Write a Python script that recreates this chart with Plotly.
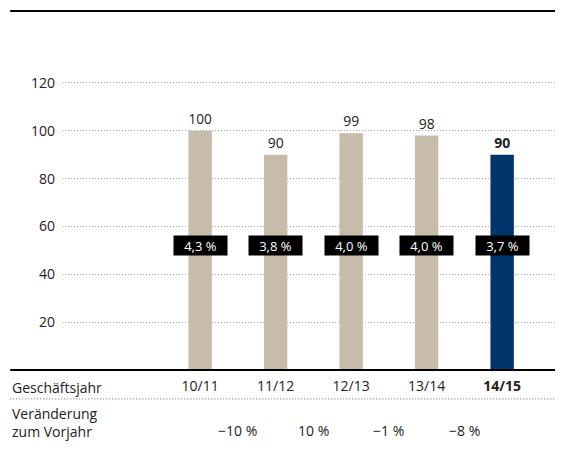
import plotly.graph_objects as go

years = ["10/11", "11/12", "12/13", "13/14", "14/15"]
values = [100, 90, 99, 98, 90]
margins = ["4,3 %", "3,8 %", "4,0 %", "4,0 %", "3,7 %"]
changes = ["\u221210 %", "10 %", "\u22121 %", "\u22128 %"]
y_ticks = [20, 40, 60, 80, 100, 120]

tan = "#c7bba9"
navy = "#00356b"
font = "Open Sans"
fs = 14

x_pos = list(range(len(years)))
colors = [tan] * (len(years) - 1) + [navy]
labels = [str(v) for v in values[:-1]] + ["<b>%d</b>" % values[-1]]
ticktext = years[:-1] + ["<b>%s</b>" % years[-1]]

fig = go.Figure(go.Bar(
    x=x_pos, y=values,
    marker=dict(color=colors, line=dict(width=0)),
    width=0.31,
    text=labels, textposition="outside",
    textfont=dict(size=fs, color="#222", family=font),
    cliponaxis=False,
))

# black boxes with the margin percentages
for i, m in enumerate(margins):
    fig.add_annotation(x=x_pos[i], y=52, text=m, showarrow=False,
                       bgcolor="black", width=51, height=17,
                       font=dict(color="white", size=13, family=font))

# year-over-year change row, placed between the two years compared
for i, c in enumerate(changes):
    fig.add_annotation(x=x_pos[i] + 0.5, y=-0.196, yref="paper", yanchor="middle", text=c,
                       showarrow=False, font=dict(size=fs, color="#222", family=font))

# row labels on the left
fig.add_annotation(x=-0.105, xref="paper", y=-0.055, yref="paper", text="Geschäftsjahr",
                   showarrow=False, xanchor="left", yanchor="middle",
                   font=dict(size=fs, color="#222", family=font))
fig.add_annotation(x=-0.105, xref="paper", y=-0.168, yref="paper",
                   text="Veränderung<br>zum Vorjahr",
                   showarrow=False, xanchor="left", yanchor="middle", align="left",
                   font=dict(size=fs, color="#222", family=font))

# rules
fig.add_shape(type="line", xref="paper", yref="paper", x0=-0.105, x1=1, y0=1.154, y1=1.154,
              line=dict(color="black", width=2))
fig.add_shape(type="line", xref="paper", yref="paper", x0=-0.105, x1=1, y0=0, y1=0,
              line=dict(color="black", width=2))
fig.add_shape(type="line", xref="paper", yref="paper", x0=-0.105, x1=1, y0=-0.093, y1=-0.093,
              line=dict(color="#666", width=1, dash="1px,2px"))

fig.update_xaxes(range=[-1.83, 4.7], tickvals=x_pos, ticktext=ticktext,
                 ticks="outside", ticklen=3, tickcolor="rgba(0,0,0,0)",
                 showgrid=False, zeroline=False, showline=False,
                 tickfont=dict(size=fs, color="#222", family=font))
fig.update_yaxes(range=[0, 130], tickvals=y_ticks, showgrid=True,
                 gridcolor="#98a6b8", griddash="1px,2px", gridwidth=1,
                 zeroline=False, showline=False, ticks="", ticklabelstandoff=6,
                 tickfont=dict(size=fs, color="#222", family=font))

fig.update_layout(
    width=557, height=452,
    margin=dict(l=54, r=10, t=51, b=90),
    plot_bgcolor="white", paper_bgcolor="white",
    showlegend=False,
    font=dict(family=font),
)

fig.write_html("out.html")
